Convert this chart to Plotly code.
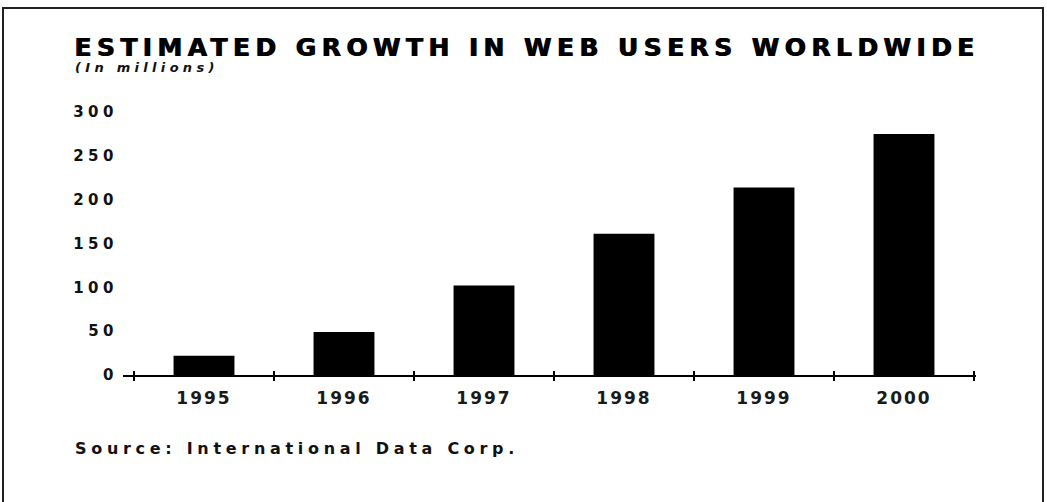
import plotly.graph_objects as go

years = ["1995", "1996", "1997", "1998", "1999", "2000"]
users = [22, 49, 102, 161, 214, 275]
y_ticks = [0, 50, 100, 150, 200, 250, 300]

title = "ESTIMATED GROWTH IN WEB USERS WORLDWIDE"
subtitle = "(In millions)"
source = "Source: International Data Corp."

FONT = "DejaVu Sans, Liberation Sans, sans-serif"


def spaced(text, px):
    return '<span style="letter-spacing:%spx">%s</span>' % (px, text)


fig = go.Figure()
fig.add_trace(go.Bar(
    x=years, y=users, width=0.435,
    marker=dict(color="#000000", line=dict(width=0)),
    hoverinfo="x+y",
))

xr = [-0.5 - 11 / 140, 5.5 + 2 / 140]
boundaries = [i - 0.5 for i in range(len(years) + 1)]

fig.update_layout(
    width=1047, height=502,
    margin=dict(l=123, r=71, t=112, b=127),
    paper_bgcolor="#ffffff", plot_bgcolor="#ffffff",
    showlegend=False,
    xaxis=dict(
        type="category", range=xr, showgrid=False, zeroline=False,
        showline=True, linecolor="#000000", linewidth=2,
        ticks="", tickvals=years,
        ticktext=[spaced(y, 2) for y in years],
        tickfont=dict(family=FONT, size=17, color="#1a1a1a", weight="bold"),
        ticklabelstandoff=7,
    ),
    xaxis2=dict(
        overlaying="x", anchor="y", side="bottom", range=xr,
        showgrid=False, zeroline=False, showline=False,
        tickmode="array", tickvals=boundaries, showticklabels=False,
        ticks="outside", ticklen=5, tickwidth=2, tickcolor="#000000",
    ),
    xaxis3=dict(
        overlaying="x", anchor="y", side="bottom", range=xr,
        showgrid=False, zeroline=False, showline=False,
        tickmode="array", tickvals=boundaries, showticklabels=False,
        ticks="inside", ticklen=4, tickwidth=2, tickcolor="#000000",
    ),
    yaxis=dict(
        range=[0, 300], showgrid=False, zeroline=False, showline=False,
        tickmode="array", tickvals=y_ticks, ticks="",
        ticktext=[spaced(str(v), 4.5) for v in y_ticks],
        tickfont=dict(family=FONT, size=15, color="#111111", weight="bold"),
        ticklabelstandoff=4,
    ),
    annotations=[
        dict(text=spaced(title, 5.4), xref="paper", yref="paper",
             x=-51 / 853, y=1 + 65 / 263,
             xanchor="left", yanchor="middle", showarrow=False,
             font=dict(family=FONT, size=25, color="#000000", weight="bold",
                       shadow="1px 0px 0px #000000")),
        dict(text="<i>" + spaced(subtitle, 4.3) + "</i>", xref="paper", yref="paper",
             x=-50 / 853, y=1 + 44 / 263, xanchor="left", yanchor="middle",
             showarrow=False,
             font=dict(family=FONT, size=13, color="#111111", weight="bold")),
        dict(text=spaced(source, 4.7),
             xref="paper", yref="paper", x=-50 / 853, y=-73 / 263,
             xanchor="left", yanchor="middle", showarrow=False,
             font=dict(family=FONT, size=16, color="#111111", weight="bold")),
    ],
    shapes=[
        dict(type="rect", xref="paper", yref="paper",
             x0=-120 / 853, x1=1 + 67 / 853, y0=-200 / 263, y1=1 + 104 / 263,
             line=dict(color="#222222", width=2), fillcolor="rgba(0,0,0,0)",
             layer="below"),
    ],
)

# dummy traces to activate the overlay axes for tick marks
fig.add_trace(go.Scatter(x=[None], y=[None], xaxis="x2", yaxis="y", showlegend=False, hoverinfo="skip"))
fig.add_trace(go.Scatter(x=[None], y=[None], xaxis="x3", yaxis="y", showlegend=False, hoverinfo="skip"))

fig.write_html("out.html")
